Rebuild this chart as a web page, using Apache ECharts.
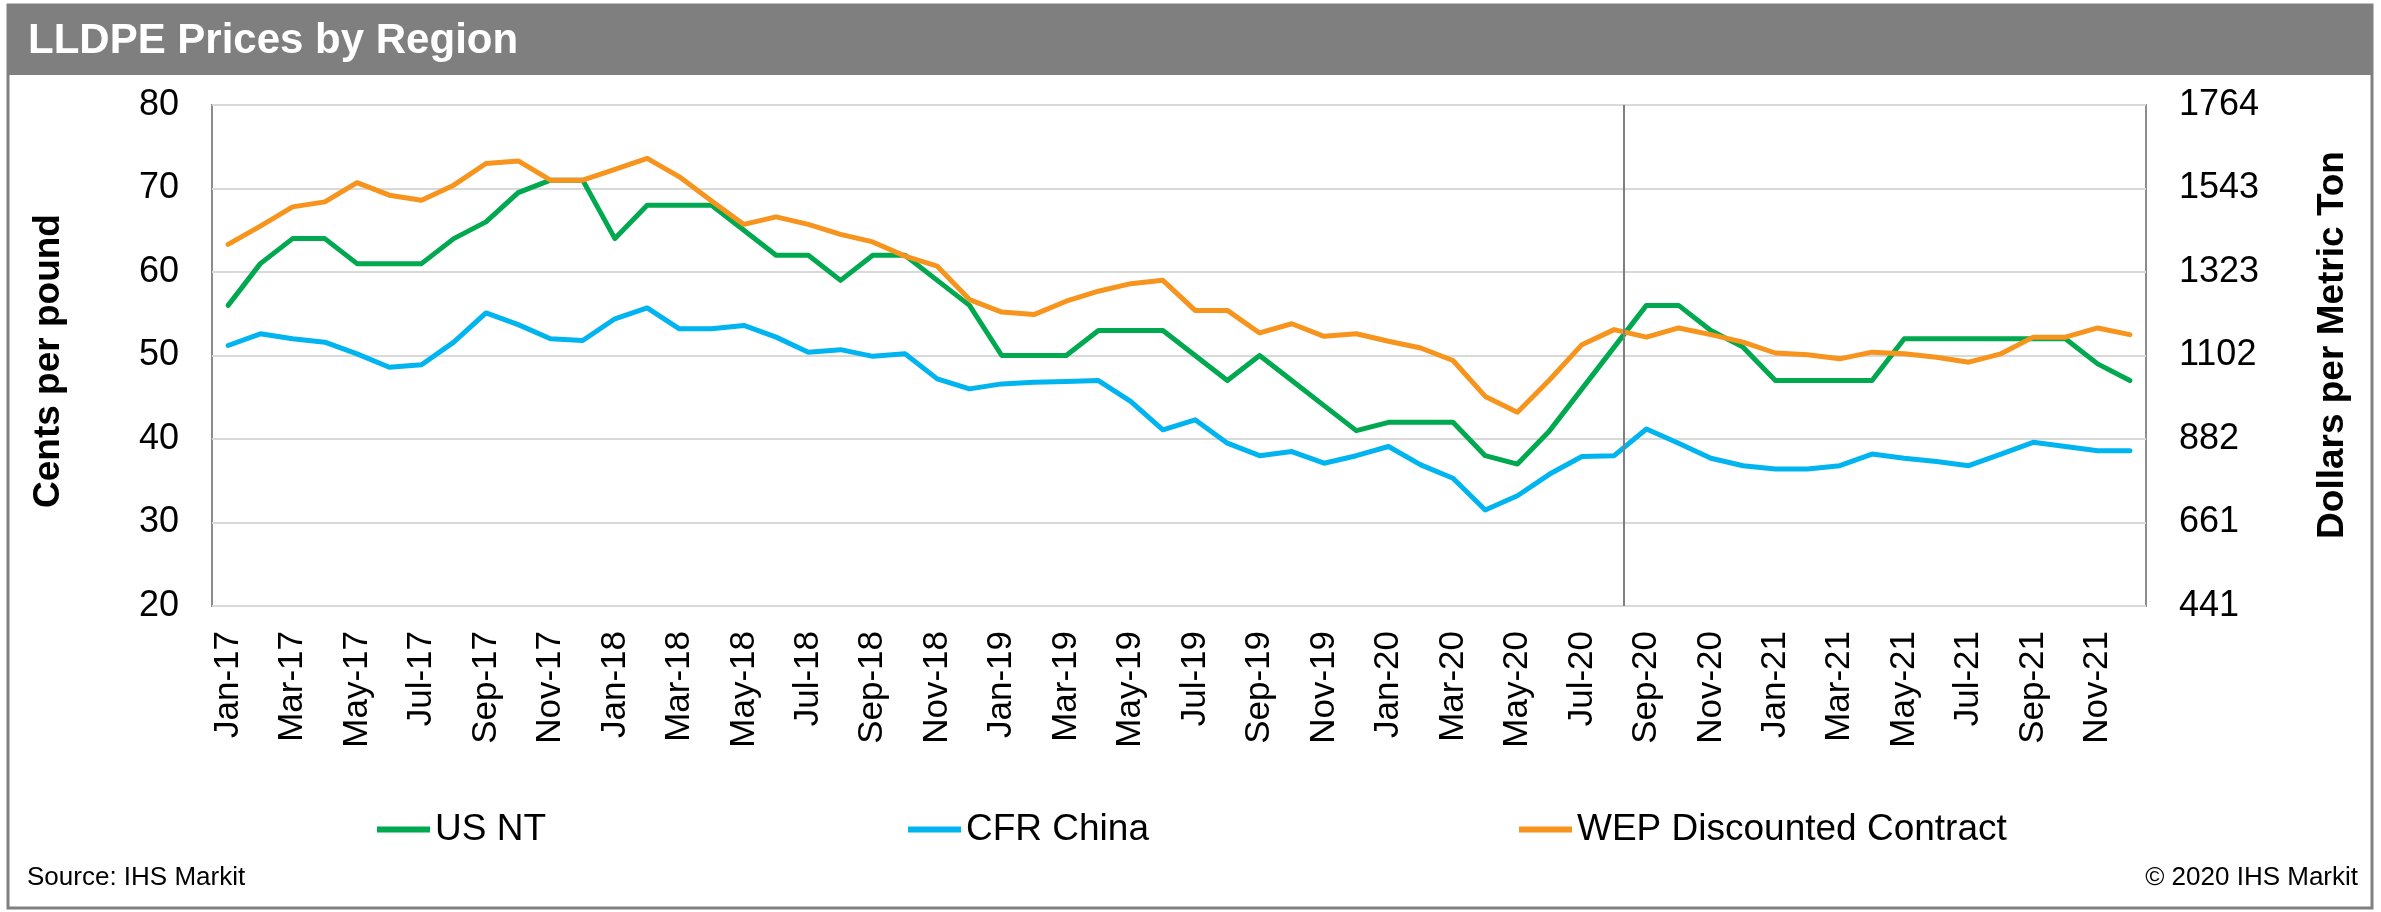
<!DOCTYPE html>
<html>
<head>
<meta charset="utf-8">
<script src="https://cdn.jsdelivr.net/npm/echarts@6/dist/echarts.min.js"></script>
<style>
html,body{margin:0;padding:0;background:#fff;}
#chart{width:2381px;height:912px;}
</style>
</head>
<body>
<div id="chart"></div>
<script>
// ---- data ----
const monthNames = ['Jan','Feb','Mar','Apr','May','Jun','Jul','Aug','Sep','Oct','Nov','Dec'];
const yearLabels = ['17','18','19','20','21'];
const categories = [];
yearLabels.forEach(y => monthNames.forEach(m => categories.push(m + '-' + y)));

const usNT = [56,61,64,64,61,61,61,64,66,69.5,71,71,
              64,68,68,68,65,62,62,59,62,62,59,56,
              50,50,50,53,53,53,50,47,50,47,44,41,
              42,42,42,38,37,41,46,51,56,56,53,51,
              47,47,47,47,52,52,52,52,52,52,49,47];
const cfrChina = [51.2,52.6,52.0,51.6,50.2,48.6,48.9,51.6,55.1,53.7,52.0,51.8,
                  54.4,55.7,53.2,53.2,53.6,52.2,50.4,50.7,49.9,50.2,47.2,46.0,
                  46.6,46.8,46.9,47.0,44.5,41.1,42.3,39.5,38.0,38.5,37.1,38.0,
                  39.1,36.9,35.3,31.5,33.2,35.8,37.9,38.0,41.2,39.5,37.7,36.8,
                  36.4,36.4,36.8,38.2,37.7,37.3,36.8,38.2,39.6,39.1,38.6,38.6];
const wepDiscounted = [63.3,65.5,67.8,68.4,70.7,69.2,68.6,70.4,73.0,73.3,71.0,71.0,
                       72.3,73.6,71.4,68.5,65.7,66.6,65.7,64.5,63.6,61.9,60.7,56.7,
                       55.2,54.9,56.5,57.7,58.6,59.0,55.4,55.4,52.7,53.8,52.3,52.6,
                       51.7,50.9,49.4,45.1,43.2,47.1,51.3,53.1,52.2,53.3,52.5,51.6,
                       50.3,50.1,49.6,50.4,50.2,49.8,49.2,50.2,52.2,52.2,53.3,52.5];
const seriesNames = ['US NT','CFR China','WEP Discounted Contract'];
const centsTicks = [20,30,40,50,60,70,80];
const dollarTicks = ['441','661','882','1102','1323','1543','1764'];
// forecast divider position on a 0..60 month scale
const forecastDivider = 43.79;

// ---- chart ----
const FONT = '"Liberation Sans", Arial, sans-serif';
const colors = ['#00a94f','#00b5ef','#f7941d'];
const chart = echarts.init(document.getElementById('chart'), null, {renderer:'canvas'});

const tickMin = centsTicks[0], tickMax = centsTicks[centsTicks.length-1], tickStep = centsTicks[1]-centsTicks[0];

function legendFor(name, left) {
  return {
    data:[name], left:left, top:811, padding:0,
    icon:'rect', itemWidth:53, itemHeight:6,
    textStyle:{fontSize:37, color:'#000', fontFamily:FONT}
  };
}

const option = {
  animation:false,
  backgroundColor:'#fff',
  color:colors,
  grid:{left:212, right:235, top:105, bottom:306, show:true, borderColor:'#8c8c8c', borderWidth:2},
  legend:[legendFor(seriesNames[0],377), legendFor(seriesNames[1],908), legendFor(seriesNames[2],1519)],
  xAxis:[
    {type:'category', data:categories, boundaryGap:true,
     axisLine:{show:false}, axisTick:{show:false}, splitLine:{show:false},
     axisLabel:{interval:1, rotate:90, margin:25, fontSize:35, color:'#000', fontFamily:FONT}},
    {type:'value', min:0, max:categories.length, show:false}
  ],
  yAxis:[
    {type:'value', min:tickMin, max:tickMax, interval:tickStep, position:'left',
     axisLine:{show:false}, axisTick:{show:false},
     splitLine:{lineStyle:{color:'#d9d9d9', width:2}},
     axisLabel:{fontSize:36, color:'#000', margin:33, fontFamily:FONT}},
    {type:'value', min:tickMin, max:tickMax, interval:tickStep, position:'right',
     axisLine:{show:false}, axisTick:{show:false}, splitLine:{show:false},
     axisLabel:{fontSize:36, color:'#000', margin:33, fontFamily:FONT,
       formatter:v => dollarTicks[centsTicks.indexOf(v)]}}
  ],
  series:[
    {name:seriesNames[0], type:'line', data:usNT, symbol:'none', lineStyle:{width:5, cap:'round', join:'round'}},
    {name:seriesNames[1], type:'line', data:cfrChina, symbol:'none', lineStyle:{width:5, cap:'round', join:'round'}},
    {name:seriesNames[2], type:'line', data:wepDiscounted, symbol:'none', lineStyle:{width:5, cap:'round', join:'round'}},
    {name:'divider', type:'line', xAxisIndex:1, yAxisIndex:0, data:[], symbol:'none', silent:true,
     markLine:{silent:true, symbol:['none','none'], label:{show:false},
       lineStyle:{color:'#7f7f7f', width:2, type:'solid'},
       data:[{xAxis:forecastDivider}]}}
  ],
  graphic:[
    {type:'rect', z:-10, shape:{x:8, y:5, width:2364, height:903}, style:{fill:'#fff', stroke:'#808080', lineWidth:3}},
    {type:'rect', z:-5, shape:{x:8, y:5, width:2364, height:70}, style:{fill:'#7f7f7f'}},
    {type:'text', x:28, y:41, style:{text:'LLDPE Prices by Region', fill:'#fff', fontSize:42, fontWeight:'bold', fontFamily:FONT, align:'left', verticalAlign:'middle'}},
    {type:'text', x:49, y:361, rotation:Math.PI/2, style:{text:'Cents per pound', fill:'#000', fontSize:37, fontWeight:'bold', fontFamily:FONT, align:'center', verticalAlign:'middle'}},
    {type:'text', x:2333, y:345, rotation:Math.PI/2, style:{text:'Dollars per Metric Ton', fill:'#000', fontSize:37, fontWeight:'bold', fontFamily:FONT, align:'center', verticalAlign:'middle'}},
    {type:'text', x:27, y:878, style:{text:'Source: IHS Markit', fill:'#000', fontSize:26, fontFamily:FONT, align:'left', verticalAlign:'middle'}},
    {type:'text', x:2358, y:878, style:{text:'\u00a9 2020 IHS Markit', fill:'#000', fontSize:26, fontFamily:FONT, align:'right', verticalAlign:'middle'}}
  ]
};
chart.setOption(option);
</script>
</body>
</html>
